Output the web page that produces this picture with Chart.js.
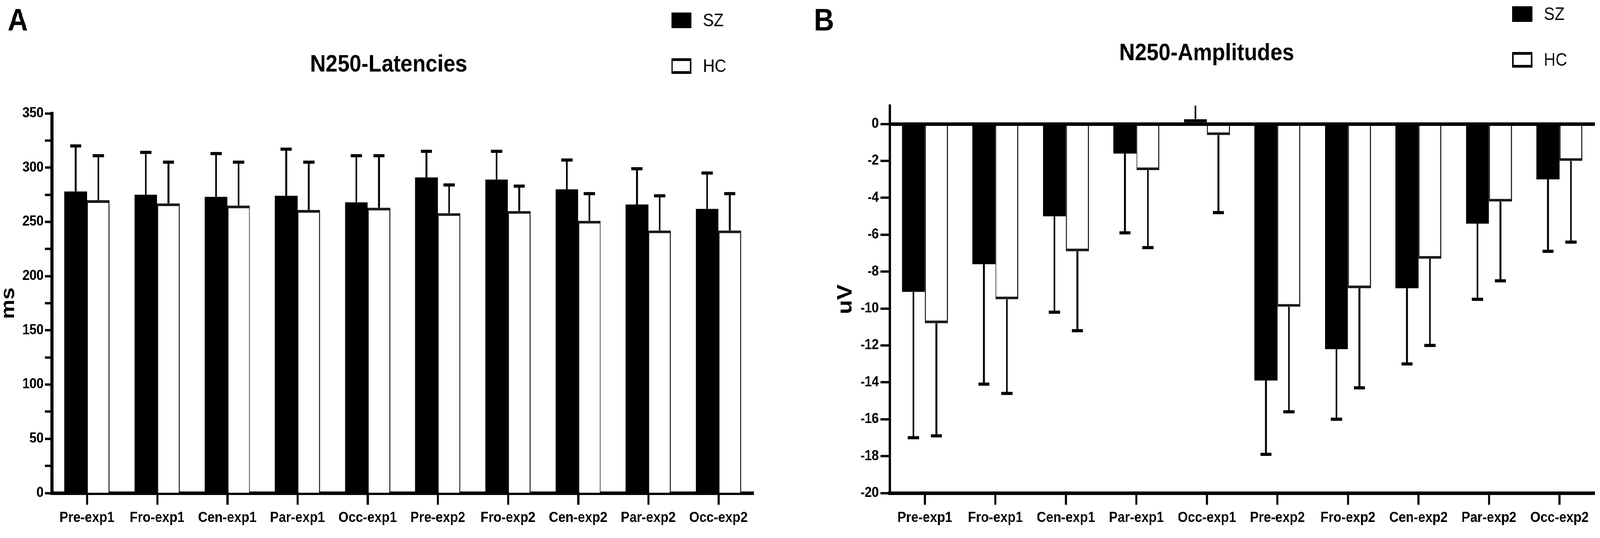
<!DOCTYPE html>
<html>
<head>
<meta charset="utf-8">
<title>N250 latencies and amplitudes</title>
<script src="https://cdn.jsdelivr.net/npm/chart.js@4.4.1/dist/chart.umd.min.js"></script>
<style>
  html, body { margin: 0; padding: 0; background: #fff; overflow: hidden; width: 100vw; height: 100vh; }
  #stage { position: absolute; left: 0; top: 0; width: 4561px; height: 1376px; transform-origin: 0 0; }
  .panel { position: absolute; top: 0; height: 1376px; }
  #wrapA { left: 0; width: 2216px; }
  #wrapB { left: 2319px; width: 2242px; }
</style>
</head>
<body>
<div id="stage">
  <div class="panel" id="wrapA"><canvas id="chartA"></canvas></div>
  <div class="panel" id="wrapB"><canvas id="chartB"></canvas></div>
</div>
<script>
// values (mean, one-sided SD)
const categories = ["Pre-exp1", "Fro-exp1", "Cen-exp1", "Par-exp1", "Occ-exp1",
                    "Pre-exp2", "Fro-exp2", "Cen-exp2", "Par-exp2", "Occ-exp2"];
const groups = ["SZ", "HC"];

const latencySZ   = [278, 275, 273, 274, 268, 291, 289, 280, 266, 262];
const latencySZsd = [42, 39, 40, 43, 43, 24, 26, 27, 33, 33];
const latencyHC   = [270, 267, 265, 261, 263, 258, 260, 251, 242, 242];
const latencyHCsd = [41, 38, 40, 44, 48, 26, 23, 25, 32, 34];

const amplitudeSZ   = [-9.1, -7.6, -5.0, -1.6, 0.26, -13.9, -12.2, -8.9, -5.4, -3.0];
const amplitudeSZsd = [7.9, 6.5, 5.2, 4.3, 0.9, 4.0, 3.8, 4.1, 4.1, 3.9];
const amplitudeHC   = [-10.8, -9.5, -6.9, -2.5, -0.6, -9.9, -8.9, -7.3, -4.2, -2.0];
const amplitudeHCsd = [6.1, 5.1, 4.3, 4.2, 4.2, 5.7, 5.4, 4.7, 4.3, 4.4];

const latencyAxis = { min: 0, max: 350, step: 25, labelEvery: 50 };
const amplitudeAxis = { min: -20, max: 1, step: 2 };

// the figure is drawn on a 4561x1376 stage, fitted to whatever the viewport is
const W = 4561, H = 1376;
const kx = window.innerWidth / W, ky = window.innerHeight / H;
document.getElementById('stage').style.transform = `scale(${kx}, ${ky})`;
const pixelRatio = (window.devicePixelRatio || 1) * Math.max(kx, ky);

// use the narrow face when it is there, otherwise plain Liberation Sans a size smaller
function sampleWidth(font) {
  const c = document.createElement('canvas').getContext('2d');
  c.font = font;
  return c.measureText('Pre-exp1 N250').width;
}
const hasNarrow = sampleWidth("bold 100px 'Liberation Sans Narrow', monospace") !== sampleWidth('bold 100px monospace');
const WIDE = "'Liberation Sans', Arial, sans-serif";
const FONT = hasNarrow ? "'Liberation Sans Narrow', " + WIDE : WIDE;
const fw = hasNarrow ? 1 : 0.82;
const fs = n => Math.round(n * fw);

Chart.defaults.color = '#000';
Chart.defaults.font.family = FONT;

// vertical SD whiskers, pointing away from zero
const errorBars = {
  id: 'errorBars',
  afterDatasetsDraw(chart, args, opts) {
    const { ctx, chartArea } = chart;
    const yScale = chart.scales.y;
    ctx.save();
    ctx.beginPath();
    ctx.rect(chartArea.left, chartArea.top, chartArea.right - chartArea.left, chartArea.bottom - chartArea.top);
    ctx.clip();
    ctx.strokeStyle = '#000';
    chart.data.datasets.forEach((ds, i) => {
      chart.getDatasetMeta(i).data.forEach((bar, j) => {
        const v = ds.data[j];
        const e = ds.errors[j];
        const end = yScale.getPixelForValue(v < 0 ? v - e : v + e);
        ctx.lineWidth = opts.lineWidth;
        ctx.beginPath();
        ctx.moveTo(bar.x, bar.y);
        ctx.lineTo(bar.x, end);
        ctx.stroke();
        ctx.lineWidth = opts.capThickness;
        ctx.beginPath();
        ctx.moveTo(bar.x - opts.capWidth / 2, end);
        ctx.lineTo(bar.x + opts.capWidth / 2, end);
        ctx.stroke();
      });
    });
    ctx.restore();
  }
};

// stacked legend in the top right corner, like the Prism figure
const boxLegend = {
  id: 'boxLegend',
  afterDraw(chart, args, o) {
    const ctx = chart.ctx;
    ctx.save();
    ctx.font = `${fs(56)}px ${FONT}`;
    ctx.textBaseline = 'middle';
    chart.data.datasets.forEach((ds, i) => {
      const top = o.y + i * o.rowGap;
      ctx.fillStyle = '#000';
      ctx.fillRect(o.x, top, o.boxW, o.boxH);
      if (ds.backgroundColor !== '#000') {
        ctx.fillStyle = ds.backgroundColor;
        ctx.fillRect(o.x + 4, top + 7, o.boxW - 8, o.boxH - 14);
      }
      ctx.fillStyle = '#000';
      ctx.fillText(ds.label, o.x + o.boxW + o.textGap, top + o.boxH / 2 + 2);
    });
    ctx.restore();
  }
};

const panelLetter = {
  id: 'panelLetter',
  afterDraw(chart, args, o) {
    const ctx = chart.ctx;
    ctx.save();
    ctx.font = `bold 80px ${WIDE}`;
    ctx.fillStyle = '#000';
    ctx.textBaseline = 'alphabetic';
    ctx.fillText(o.text, o.x, o.y);
    ctx.restore();
  }
};

function datasets(sz, szSd, hc, hcSd) {
  return [
    { label: groups[0], data: sz, errors: szSd, backgroundColor: '#000', borderWidth: 0 },
    { label: groups[1], data: hc, errors: hcSd, backgroundColor: '#fff', borderColor: '#1a1a1a',
      borderWidth: { top: 7, bottom: 7, left: 3, right: 3 }, borderSkipped: 'start' }
  ];
}

// title box sized so the text sits at centerY and the plot starts at areaTop
function title(text, centerY, areaTop) {
  const size = fs(74), lh = size * 1.2;
  return {
    display: true, text, color: '#000',
    font: { size, weight: 'bold', lineHeight: 1.2 },
    padding: { top: centerY - lh / 2, bottom: areaTop - centerY - lh / 2 }
  };
}

function xScale() {
  return {
    offset: true,
    grid: { offset: false, drawOnChartArea: false, tickLength: 30, tickWidth: 6, tickColor: '#000' },
    border: { color: '#000', width: 9 },
    ticks: { font: { size: fs(45), weight: 'bold' }, padding: 12, maxRotation: 0, autoSkip: false, color: '#000' },
    afterFit: s => { s.height = 115; }
  };
}

function padScale(w) {
  return {
    type: 'linear', position: 'right', display: true,
    grid: { display: false, drawTicks: false }, border: { display: false },
    ticks: { display: false },
    afterFit: s => { s.width = w; }
  };
}

const common = {
  responsive: true,
  maintainAspectRatio: false,
  devicePixelRatio: pixelRatio,
  animation: false,
  events: [],
  layout: { padding: 0 }
};

const whiskers = { lineWidth: 5, capWidth: 32, capThickness: 8 };

new Chart(document.getElementById('chartA'), {
  type: 'bar',
  data: { labels: categories, datasets: datasets(latencySZ, latencySZsd, latencyHC, latencyHCsd) },
  plugins: [errorBars, boxLegend, panelLetter],
  options: {
    ...common,
    datasets: { bar: { categoryPercentage: 0.645, barPercentage: 1.0 } },
    plugins: {
      legend: { display: false },
      tooltip: { enabled: false },
      title: title('N250-Latencies', 166, 290),
      errorBars: whiskers,
      boxLegend: { x: 1914, y: 32, boxW: 57, boxH: 40, rowGap: 117, textGap: 33 },
      panelLetter: { text: 'A', x: 22, y: 78 }
    },
    scales: {
      x: xScale(),
      y: {
        min: latencyAxis.min, max: latencyAxis.max,
        ticks: {
          stepSize: latencyAxis.step, autoSkip: false, padding: 4, color: '#000',
          font: { size: fs(44), weight: 'bold' },
          callback: v => (v % latencyAxis.labelEvery === 0 ? v : '')
        },
        grid: { drawOnChartArea: false, tickLength: 20, tickWidth: 6, tickColor: '#000' },
        border: { color: '#000', width: 8 },
        title: {
          display: true, text: 'ms', color: '#000',
          font: { family: WIDE, size: 56, weight: 'bold', lineHeight: 1 },
          padding: { top: -3, bottom: 0 }
        },
        afterFit: s => { s.width = 148; }
      },
      pad: padScale(68)
    }
  }
});

new Chart(document.getElementById('chartB'), {
  type: 'bar',
  data: { labels: categories, datasets: datasets(amplitudeSZ, amplitudeSZsd, amplitudeHC, amplitudeHCsd) },
  plugins: [errorBars, boxLegend, panelLetter],
  options: {
    ...common,
    datasets: { bar: { categoryPercentage: 0.65, barPercentage: 1.0 } },
    plugins: {
      legend: { display: false },
      tooltip: { enabled: false },
      title: title('N250-Amplitudes', 137, 270),
      errorBars: whiskers,
      boxLegend: { x: 1992, y: 16, boxW: 57, boxH: 40, rowGap: 117, textGap: 33 },
      panelLetter: { text: 'B', x: 1, y: 78 }
    },
    scales: {
      x: xScale(),
      y: {
        min: amplitudeAxis.min, max: amplitudeAxis.max,
        afterBuildTicks: s => { s.ticks = s.ticks.filter(t => t.value <= 0); },
        ticks: { stepSize: amplitudeAxis.step, autoSkip: false, padding: 5, color: '#000', font: { size: fs(44), weight: 'bold' } },
        grid: {
          drawOnChartArea: true,
          color: c => (c.tick && c.tick.value === 0 ? '#000' : 'rgba(0,0,0,0)'),
          lineWidth: 9, tickLength: 26, tickWidth: 6, tickColor: '#000'
        },
        border: { color: '#000', width: 7 },
        title: {
          display: true, text: 'uV', color: '#000',
          font: { family: WIDE, size: 60, weight: 'bold', lineHeight: 1 },
          padding: { top: 61, bottom: 0 }
        },
        afterFit: s => { s.width = 217; }
      },
      pad: padScale(15)
    }
  }
});
</script>
</body>
</html>
